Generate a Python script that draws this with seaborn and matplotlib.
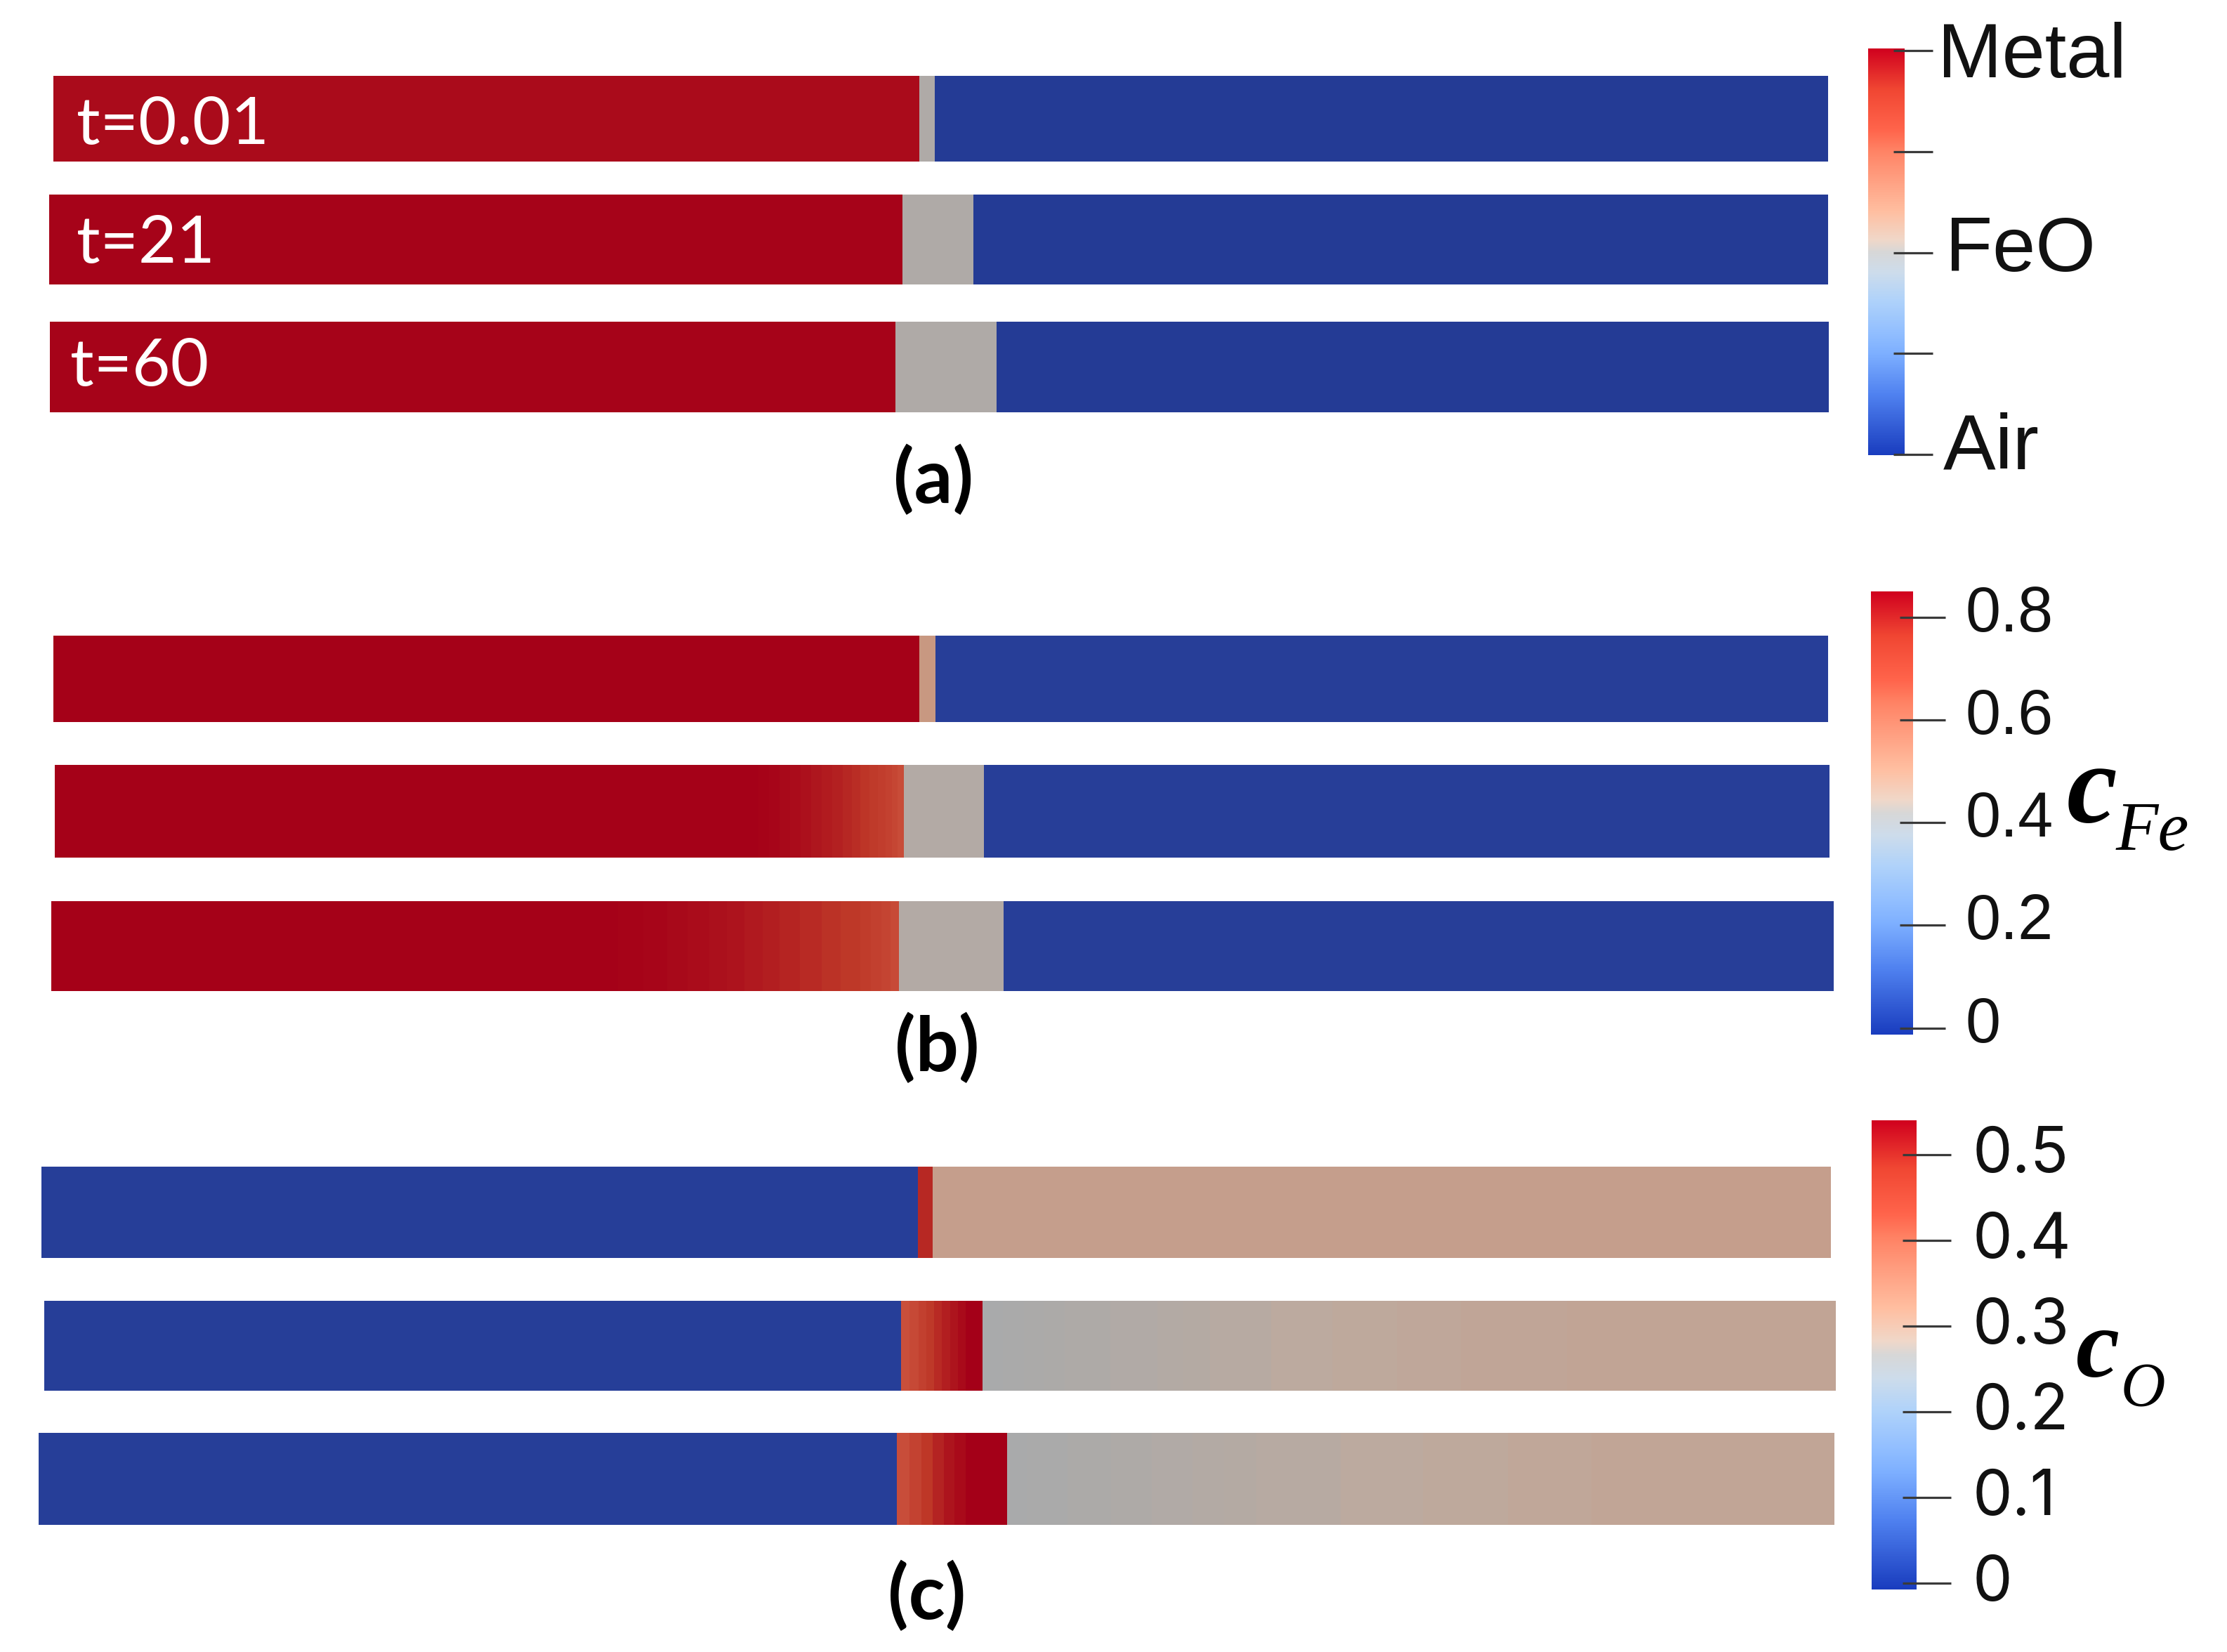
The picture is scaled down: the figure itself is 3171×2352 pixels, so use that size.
import matplotlib
matplotlib.use("Agg")
import matplotlib.pyplot as plt
import matplotlib.cm as cm
from matplotlib.colors import LinearSegmentedColormap, Normalize
from matplotlib.transforms import ScaledTranslation
import numpy as np
import pandas as pd
import seaborn as sns

W, H = 3171, 2352

# colour stops (fraction, rgb)
stop_pos = [0.0, 0.15, 0.25, 0.3, 0.38, 0.45, 0.5, 0.53, 0.6, 0.75, 0.8, 0.9, 1.0]
stop_rgb = [(25, 60, 190), (80, 130, 240), (125, 175, 255), (145, 190, 255), (175, 210, 250),
            (205, 220, 235), (215, 215, 215), (240, 215, 200), (255, 190, 160), (255, 130, 100),
            (255, 100, 75), (240, 70, 50), (208, 0, 30)]
# the bars in the strips are shaded, so they come out darker than the colour bar
shade = 0.79
strip_low_rgb = (36, 58, 148)

# strips: edges along the domain in %, one value per interval
# (a) phase field
a_labels = ["t=0.01", "t=21", "t=60"]
a_edges = [[0, 48.79, 49.66, 100],
           [0, 47.96, 51.96, 100],
           [0, 47.53, 53.21, 100]]
a_values = [[0.985, 0.51, 0.0],
            [1.0, 0.51, 0.0],
            [1.0, 0.51, 0.0]]

# (b) c_Fe
b_edges = [[0, 48.78, 49.69, 100],
           [0, 39.0, 39.65, 40.25, 40.84, 41.45, 42.03, 42.6, 43.21, 43.8, 44.40, 44.9, 45.39, 45.9,
            46.38, 46.8, 47.17, 47.5, 47.84, 52.36, 100],
           [0, 31.80, 33.2, 34.55, 35.7, 36.92, 37.9, 38.89, 39.9, 40.86, 42.0, 43.22, 44.3, 45.39,
            46.0, 46.57, 47.1, 47.56, 53.43, 100]]
b_values = [[0.85, 0.5, 0.0],
            [0.85, 0.849, 0.846, 0.842, 0.837, 0.831, 0.825, 0.817, 0.808, 0.80, 0.79, 0.78, 0.768,
             0.755, 0.742, 0.728, 0.712, 0.69, 0.43, 0.0],
            [0.85, 0.846, 0.842, 0.837, 0.832, 0.826, 0.82, 0.812, 0.803, 0.795, 0.785, 0.773, 0.76,
             0.747, 0.733, 0.718, 0.695, 0.43, 0.0]]

# (c) c_O
c_edges = [[0, 48.98, 49.80, 100],
           [0, 47.84, 48.3, 48.8, 49.25, 49.67, 50.1, 50.57, 51.0, 51.43, 52.39, 53.5, 54.69, 55.8,
            56.96, 59.5, 62.15, 63.6, 65.07, 68.5, 71.89, 75.5, 79.07, 85, 100],
           [0, 47.78, 48.5, 49.17, 49.8, 50.4, 51.0, 51.61, 53.92, 55.02, 57.3, 59.71, 62, 64.24,
            66, 67.82, 72.5, 77.07, 81.8, 86.45, 100]]
c_values = [[0.0, 0.50, 0.305],
            [0.0, 0.43, 0.445, 0.465, 0.482, 0.498, 0.51, 0.52, 0.53, 0.54, 0.264, 0.266, 0.267,
             0.268, 0.270, 0.272, 0.274, 0.275, 0.277, 0.281, 0.285, 0.288, 0.291, 0.294],
            [0.0, 0.435, 0.46, 0.485, 0.505, 0.52, 0.53, 0.54, 0.264, 0.266, 0.268, 0.270, 0.272,
             0.274, 0.275, 0.277, 0.281, 0.285, 0.289, 0.293]]

a_ticks = [0, 0.25, 0.5, 0.75, 1]
b_ticks = [0, 0.2, 0.4, 0.6, 0.8]
c_ticks = [0, 0.1, 0.2, 0.3, 0.4, 0.5]
b_ticklabels = ["0", "0.2", "0.4", "0.6", "0.8"]
c_ticklabels = ["0", "0.1", "0.2", "0.3", "0.4", "0.5"]

# left, top, right, bottom of every strip in image pixels
a_boxes = [(76, 108, 2603, 230), (70, 277, 2603, 405), (71, 458, 2604, 587)]
b_boxes = [(76, 905, 2603, 1028), (78, 1089, 2605, 1221), (73, 1283, 2611, 1411)]
c_boxes = [(59, 1661, 2607, 1791), (63, 1852, 2614, 1980), (55, 2040, 2612, 2171)]


def make_cmap(name, factor=1.0, low=None):
    cols = [tuple(v * factor / 255 for v in rgb) for rgb in stop_rgb]
    if low is not None:
        cols[0] = tuple(v / 255 for v in low)
    return LinearSegmentedColormap.from_list(name, list(zip(stop_pos, cols)), N=1024)


def px_axes(fig, box):
    l, t, r, b = box
    return fig.add_axes([l / W, 1 - b / H, (r - l) / W, (b - t) / H])


def px_text(fig, x, y, s, **kw):
    # x = left edge, y = baseline in image pixels
    return fig.text(x / W, 1 - y / H, s, ha="left", va="baseline", **kw)


def fs(px):
    return px * 0.72


def draw_strip(fig, box, edges, values, vmin, vmax):
    ax = px_axes(fig, box)
    n = box[2] - box[0]
    centers = (np.arange(n) + 0.5) / n * 100
    idx = np.searchsorted(edges, centers) - 1
    row = np.array(values)[idx]
    df = pd.DataFrame([row])
    sns.heatmap(df, ax=ax, cmap=strip_cmap, vmin=vmin, vmax=vmax, cbar=False,
                xticklabels=False, yticklabels=False)
    return ax


def draw_colorbar(fig, box, vmin, vmax, ticks, labels, tick_x, pad_px, fontsize=None, family=None, up=13):
    cax = px_axes(fig, box)
    sm = cm.ScalarMappable(norm=Normalize(vmin, vmax), cmap=bar_cmap)
    cbar = fig.colorbar(sm, cax=cax)
    cbar.outline.set_visible(False)
    cbar.set_ticks(ticks)
    cbar.set_ticklabels(labels)
    cax.tick_params(length=0, pad=pad_px * 0.72, labelsize=fontsize, labelcolor="#111111")
    x0 = (tick_x[0] - box[0]) / (box[2] - box[0])
    x1 = (tick_x[1] - box[0]) / (box[2] - box[0])
    cax.hlines(ticks, x0, x1, transform=cax.get_yaxis_transform(), clip_on=False,
               colors="#3a3a3a", linewidth=2.3, zorder=5)
    # labels sit a little above their tick in the original
    shift = ScaledTranslation(0, up * 0.72 / 72, fig.dpi_scale_trans)
    for lab in cax.get_yticklabels():
        lab.set_transform(lab.get_transform() + shift)
        if family:
            lab.set_family(family)
    return cax


sns.set_theme(style="white")
plt.rcParams["font.family"] = ["Liberation Sans", "DejaVu Sans"]

strip_cmap = make_cmap("strips", shade, strip_low_rgb)
bar_cmap = make_cmap("bars")

fig = plt.figure(figsize=(W / 100, H / 100), dpi=100, facecolor="white")

for box, e, v in zip(a_boxes, a_edges, a_values):
    draw_strip(fig, box, e, v, -0.002, 1.006)
for box, e, v in zip(b_boxes, b_edges, b_values):
    draw_strip(fig, box, e, v, -0.013, 0.851)
for box, e, v in zip(c_boxes, c_edges, c_values):
    draw_strip(fig, box, e, v, -0.0074, 0.54)

# time labels on the first panel
for s, x, y in zip(a_labels, [109, 109, 100], [205, 374, 549]):
    px_text(fig, x, y, s, color="white", fontsize=fs(94), family="Lato")

# colour bars
draw_colorbar(fig, (2660, 69, 2712, 648), -0.002, 1.006, a_ticks, [""] * 5, (2696, 2752), 10)
draw_colorbar(fig, (2664, 842, 2724, 1473), -0.013, 0.851, b_ticks, b_ticklabels, (2705, 2770), 74, fs(90))
draw_colorbar(fig, (2665, 1595, 2729, 2263), -0.0074, 0.54, c_ticks, c_ticklabels, (2709, 2778), 80, fs(90), "Inter", up=8)

# words next to the phase bar
px_text(fig, 2759, 110, "Metal", color="#111111", fontsize=fs(110))
px_text(fig, 2770, 386, "FeO", color="#111111", fontsize=fs(110))
px_text(fig, 2767, 668, "Air", color="#111111", fontsize=fs(112))

# panel letters
for s, x, y in zip(["(a)", "(b)", "(c)"], [1272, 1274, 1264], [716, 1525, 2305]):
    px_text(fig, x, y, s, color="black", fontsize=fs(108), family="Lato", weight="bold")

# quantity labels
px_text(fig, 2943, 1170, "c", fontsize=fs(162), family="Liberation Serif", style="italic", weight="bold", color="black")
px_text(fig, 3013, 1210, "Fe", fontsize=fs(99), family="Liberation Serif", style="italic", color="black")
px_text(fig, 2956, 1960, "c", fontsize=fs(140), family="Liberation Serif", style="italic", weight="bold", color="black")
px_text(fig, 3020, 2001, "O", fontsize=fs(88), family="Liberation Serif", style="italic", color="black")

fig.savefig("out.png", dpi=100, facecolor="white")
